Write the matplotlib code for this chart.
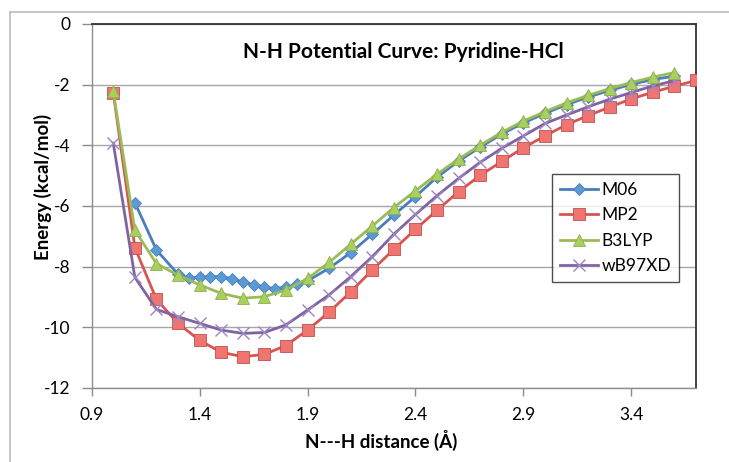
import matplotlib
matplotlib.use("Agg")
import matplotlib.pyplot as plt
from matplotlib.lines import Line2D

plt.rcParams['font.family'] = ['Lato', 'DejaVu Sans']

# ---- data ----
x_m06 = [1.1, 1.2, 1.3, 1.35, 1.4, 1.45, 1.5, 1.55, 1.6, 1.65, 1.7, 1.75, 1.8, 1.85, 1.9,
         2.0, 2.1, 2.2, 2.3, 2.4, 2.5, 2.6, 2.7, 2.8, 2.9, 3.0, 3.1, 3.2, 3.3, 3.4, 3.5, 3.6]
y_m06 = [-5.89, -7.45, -8.25, -8.37, -8.35, -8.33, -8.33, -8.40, -8.50, -8.60, -8.68, -8.72, -8.68, -8.58, -8.47,
         -8.05, -7.54, -6.93, -6.30, -5.69, -5.05, -4.52, -4.06, -3.63, -3.26, -2.95, -2.66, -2.41, -2.19, -1.99, -1.83, -1.72]

x_mp2 = [1.0, 1.1, 1.2, 1.3, 1.4, 1.5, 1.6, 1.7, 1.8, 1.9, 2.0, 2.1, 2.2, 2.3, 2.4, 2.5, 2.6, 2.7,
         2.8, 2.9, 3.0, 3.1, 3.2, 3.3, 3.4, 3.5, 3.6, 3.7]
y_mp2 = [-2.26, -7.37, -9.08, -9.87, -10.43, -10.82, -10.97, -10.89, -10.60, -10.09, -9.50, -8.83, -8.11,
         -7.43, -6.77, -6.14, -5.53, -4.99, -4.53, -4.08, -3.69, -3.32, -3.02, -2.74, -2.47, -2.25, -2.05, -1.86]

x_b3 = [1.0, 1.1, 1.2, 1.3, 1.4, 1.5, 1.6, 1.7, 1.8, 1.9, 2.0, 2.1, 2.2, 2.3, 2.4, 2.5, 2.6, 2.7,
        2.8, 2.9, 3.0, 3.1, 3.2, 3.3, 3.4, 3.5, 3.6]
y_b3 = [-2.22, -6.80, -7.90, -8.28, -8.60, -8.88, -9.04, -8.99, -8.77, -8.39, -7.86, -7.26, -6.66,
        -6.05, -5.50, -4.95, -4.45, -4.00, -3.57, -3.20, -2.89, -2.60, -2.35, -2.13, -1.93, -1.75, -1.60]

x_wb = [1.0, 1.1, 1.2, 1.3, 1.4, 1.5, 1.6, 1.7, 1.8, 1.9, 2.0, 2.1, 2.2, 2.3, 2.4, 2.5, 2.6, 2.7,
        2.8, 2.9, 3.0, 3.1, 3.2, 3.3, 3.4, 3.5, 3.6]
y_wb = [-3.93, -8.35, -9.41, -9.65, -9.87, -10.09, -10.20, -10.17, -9.92, -9.43, -8.93, -8.33, -7.67,
        -6.93, -6.28, -5.66, -5.09, -4.56, -4.10, -3.69, -3.28, -3.00, -2.73, -2.48, -2.26, -2.04, -1.87]

x_ticks = [0.9, 1.4, 1.9, 2.4, 2.9, 3.4]
y_ticks = [0, -2, -4, -6, -8, -10, -12]

W, H = 729, 462
fig = plt.figure(figsize=(W / 100, H / 100), dpi=100)
fig.patch.set_facecolor('white')

# outer chart frame (top and left edges visible)
fig.add_artist(Line2D([10 / W, 10 / W], [0, 1 - 12 / H], transform=fig.transFigure, color='#BBBBBB', lw=1.2))
fig.add_artist(Line2D([10 / W, 1], [1 - 12 / H, 1 - 12 / H], transform=fig.transFigure, color='#BBBBBB', lw=1.2))

L, R, T, B = 91.7, 696, 24, 388
ax = fig.add_axes([L / W, 1 - B / H, (R - L) / W, (B - T) / H])
ax.set_xlim(0.9, 3.7)
ax.set_ylim(-12, 0)

ax.set_yticks(y_ticks)
ax.set_yticklabels([str(v) for v in y_ticks])
ax.set_xticks(x_ticks)
ax.set_xticklabels([f"{v:.1f}" for v in x_ticks])
ax.yaxis.grid(True, color='#A6A6A6', lw=1)
ax.set_axisbelow(True)

for s in ['top', 'right']:
    ax.spines[s].set_color('#333333')
    ax.spines[s].set_linewidth(1.3)
for s in ['left', 'bottom']:
    ax.spines[s].set_color('#8C8C8C')
    ax.spines[s].set_linewidth(1.0)

ax.tick_params(axis='y', direction='out', length=7, width=1, color='#8C8C8C', pad=8, labelsize=12.5)
ax.tick_params(axis='x', direction='out', length=6, width=1, color='#8C8C8C', pad=8, labelsize=12.5)

lw = 2.0
ax.plot(x_m06, y_m06, color='#4A7EBB', lw=lw, marker='D', ms=6.5,
        mfc='#5B9BD5', mec='#4A7EBB', mew=0.6, label='M06', zorder=3)
ax.plot(x_mp2, y_mp2, color='#D9534F', lw=lw, marker='s', ms=8.5,
        mfc='#F07470', mec='#C0504D', mew=0.6, label='MP2', zorder=3)
ax.plot(x_b3, y_b3, color='#9BBB59', lw=lw, marker='^', ms=8.5,
        mfc='#A9D05F', mec='#8EB04E', mew=0.6, label='B3LYP', zorder=4)
ax.plot(x_wb, y_wb, color='#8064A2', lw=lw, marker='x', ms=8,
        mec='#9C85C0', mew=1.0, label='wB97XD', zorder=3)

fig.text(403 / W, 1 - 52 / H, 'N-H Potential Curve: Pyridine-HCl', ha='center', va='center',
         fontsize=15, fontweight='bold')
fig.text(381 / W, 1 - 440 / H, 'N---H distance (Å)', ha='center', va='center',
         fontsize=13.5, fontweight='bold')
fig.text(43 / W, 1 - 187 / H, 'Energy (kcal/mol)', ha='center', va='center',
         fontsize=13.5, fontweight='bold', rotation=90)

leg = ax.legend(loc='upper left', bbox_to_anchor=(552 / W, 1 - 174 / H), bbox_transform=fig.transFigure,
                fontsize=12.5, frameon=True, fancybox=False, borderpad=0.45, labelspacing=0.55,
                handlelength=2.2, handletextpad=0.2, borderaxespad=0)
leg.get_frame().set_edgecolor('#222222')
leg.get_frame().set_linewidth(1.0)

fig.savefig('out.png', dpi=100, facecolor='white')
